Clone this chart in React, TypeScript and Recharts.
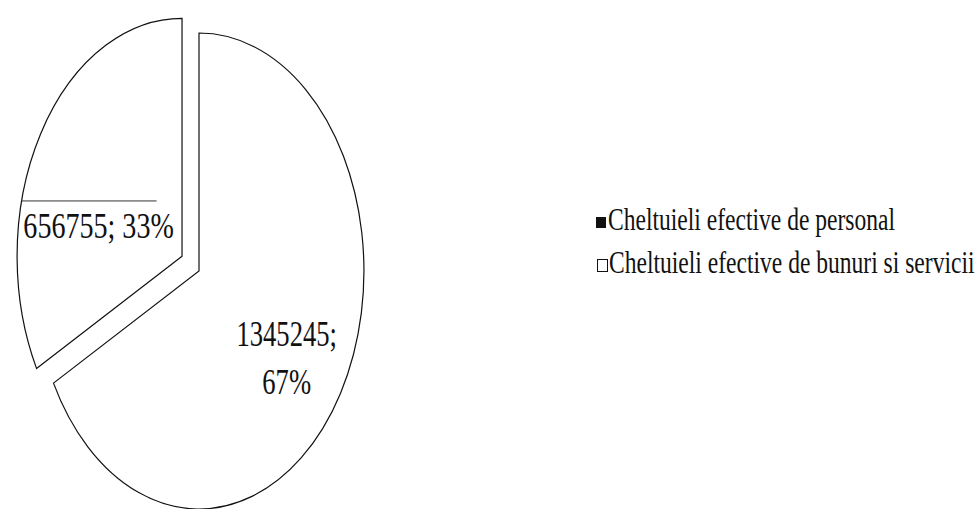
import { PieChart, Pie, Legend } from 'recharts'

const CATEGORIES = ['Cheltuieli efective de personal', 'Cheltuieli efective de bunuri si servicii']
const VALUES = [1345245, 656755]

const data = CATEGORIES.map((name, i) => ({ name, value: VALUES[i] }))

// the pie in the scan is squashed sideways into an ellipse
const SX = 0.693
const EXPLODE = 0.12
const FONT = '"Liberation Serif", "Times New Roman", serif'

const rad = (deg: number) => (deg * Math.PI) / 180

const isExploded = (p: any) => (p.payload?.name ?? p.name) === CATEGORIES[1]

const apex = (p: any) => {
  const rx = p.outerRadius * SX
  const ry = p.outerRadius
  if (!isExploded(p)) return [p.cx, p.cy]
  const mid = p.midAngle ?? (p.startAngle + p.endAngle) / 2
  return [p.cx + Math.cos(rad(mid)) * rx * EXPLODE, p.cy - Math.sin(rad(mid)) * ry * EXPLODE]
}

const EllipseSector = (props: any) => {
  const { outerRadius, startAngle, endAngle } = props
  const rx = outerRadius * SX
  const ry = outerRadius
  const [ax, ay] = apex(props)
  const x0 = ax + rx * Math.cos(rad(startAngle))
  const y0 = ay - ry * Math.sin(rad(startAngle))
  const x1 = ax + rx * Math.cos(rad(endAngle))
  const y1 = ay - ry * Math.sin(rad(endAngle))
  const large = Math.abs(endAngle - startAngle) > 180 ? 1 : 0
  const sweep = endAngle < startAngle ? 1 : 0
  return (
    <path
      d={`M${ax},${ay} L${x0},${y0} A${rx},${ry} 0 ${large} ${sweep} ${x1},${y1} Z`}
      fill="#fff"
      stroke="#111"
      strokeWidth={1.2}
    />
  )
}

const renderLabel = (props: any) => {
  const { outerRadius, midAngle, value, percent } = props
  const rx = outerRadius * SX
  const ry = outerRadius
  const [ax, ay] = apex(props)
  const pct = `${Math.round(percent * 100)}%`
  if (!isExploded(props)) {
    const x = ax + Math.cos(rad(midAngle)) * rx * 0.62
    const y = ay - Math.sin(rad(midAngle)) * ry * 0.61
    return (
      <g transform={`translate(${x},${y}) scale(0.74,1)`}>
        <text x={0} y={0} textAnchor="middle" fontSize={36} fontFamily={FONT} fill="#111">{`${value};`}</text>
        <text x={0} y={48} textAnchor="middle" fontSize={36} fontFamily={FONT} fill="#111">{pct}</text>
      </g>
    )
  }
  const x = ax + Math.cos(rad(midAngle)) * rx * 0.59
  const y = ay - Math.sin(rad(midAngle)) * ry * 0.15
  return (
    <g>
      <line x1={x - 77} x2={x + 58} y1={y - 37} y2={y - 37} stroke="#333" strokeWidth={1} />
      <g transform={`translate(${x},${y}) scale(0.78,1)`}>
        <text x={0} y={0} textAnchor="middle" fontSize={36} fontFamily={FONT} fill="#111">{`${value}; ${pct}`}</text>
      </g>
    </g>
  )
}

const renderLegend = ({ payload }: any) => {
  const items = [...(payload || [])].sort(
    (a: any, b: any) => CATEGORIES.indexOf(a.value) - CATEGORIES.indexOf(b.value)
  )
  return (
    <svg width={389} height={90}>
      {items.map((p: any, i: number) => {
        const y = 30 + i * 43
        return (
          <g key={p.value}>
            {i === 0 ? (
              <rect x={6} y={y - 13} width={10} height={11} fill="#111" />
            ) : (
              <rect x={7.5} y={y - 13.5} width={10} height={12} fill="#fff" stroke="#111" strokeWidth={1} />
            )}
            <g transform={`translate(${18 + i},${y}) scale(0.76,1)`}>
              <text x={0} y={0} fontSize={31} fontFamily={FONT} fill="#111">{p.value}</text>
            </g>
          </g>
        )
      })}
    </svg>
  )
}

export default function App() {
  return (
    <div style={{ position: 'absolute', left: 0, top: 0, width: 979, height: 509, background: '#fff' }}>
      <PieChart width={979} height={509} margin={{ top: 0, right: 0, bottom: 0, left: 0 }}>
        <Pie
          data={data}
          dataKey="value"
          nameKey="name"
          cx={199}
          cy={271}
          outerRadius={238}
          startAngle={90}
          endAngle={-270}
          fill="#fff"
          stroke="#111"
          legendType="square"
          shape={EllipseSector}
          label={renderLabel}
          labelLine={false}
          isAnimationActive={false}
        />
        <Legend
          content={renderLegend}
          wrapperStyle={{ position: 'absolute', left: 590, top: 200, width: 389, height: 90 }}
        />
      </PieChart>
    </div>
  )
}
